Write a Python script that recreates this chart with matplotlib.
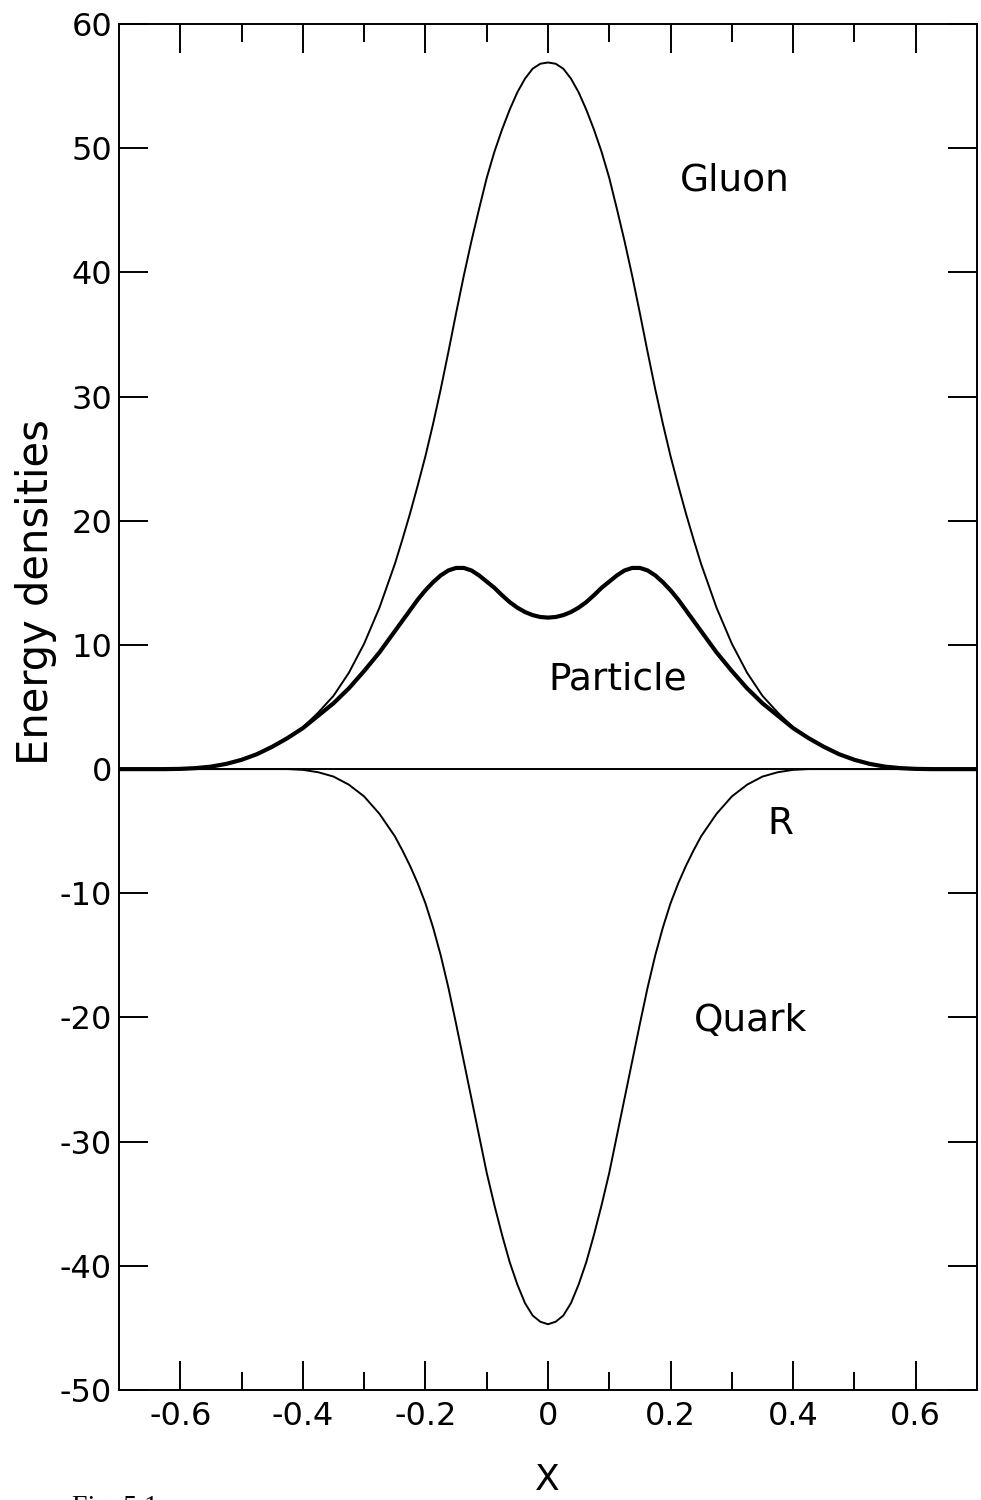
import numpy as np
import matplotlib
matplotlib.use("Agg")
import matplotlib.pyplot as plt

# values (curves are symmetric about x = 0)
x_half = [0.0, 0.0125, 0.025, 0.0375, 0.05, 0.0625, 0.075, 0.0875, 0.1, 0.1125,
          0.125, 0.1375, 0.15, 0.1625, 0.175, 0.1875, 0.2, 0.2125, 0.225, 0.2375,
          0.25, 0.275, 0.3, 0.325, 0.35, 0.375, 0.4, 0.425, 0.45, 0.475,
          0.5, 0.525, 0.55, 0.575, 0.6, 0.625, 0.65, 0.7]
gluon_half = [56.9, 56.8, 56.4, 55.6, 54.5, 53.1, 51.5, 49.7, 47.6, 45.1,
              42.5, 39.7, 36.7, 33.6, 30.6, 27.8, 25.2, 22.85, 20.6, 18.5,
              16.5, 13.0, 10.1, 7.75, 5.9, 4.55, 3.36, 2.5, 1.8, 1.2,
              0.75, 0.42, 0.2, 0.08, 0.02, 0.0, 0.0, 0.0]
particle_half = [12.2, 12.25, 12.4, 12.65, 13.0, 13.45, 14.0, 14.6, 15.1, 15.6,
                 16.0, 16.2, 16.2, 16.0, 15.6, 15.05, 14.4, 13.65, 12.8, 11.95,
                 11.1, 9.4, 7.9, 6.5, 5.3, 4.3, 3.3, 2.5, 1.8, 1.2,
                 0.75, 0.42, 0.2, 0.08, 0.02, 0.0, 0.0, 0.0]
quark_half = [-44.7, -44.5, -44.0, -43.0, -41.5, -39.7, -37.5, -35.1, -32.5, -29.5,
              -26.5, -23.5, -20.5, -17.6, -15.0, -12.75, -10.8, -9.2, -7.8, -6.55,
              -5.4, -3.6, -2.2, -1.25, -0.6, -0.25, -0.06, 0.0, 0.0, 0.0,
              0.0, 0.0, 0.0, 0.0, 0.0, 0.0, 0.0, 0.0]

xticks = [-0.6, -0.4, -0.2, 0, 0.2, 0.4, 0.6]
xtick_labels = ["-0.6", "-0.4", "-0.2", "0", "0.2", "0.4", "0.6"]
yticks = [-50, -40, -30, -20, -10, 0, 10, 20, 30, 40, 50, 60]
ytick_labels = ["-50", "-40", "-30", "-20", "-10", "0", "10", "20", "30", "40", "50", "60"]


def mirror(xs, ys):
    xs = np.asarray(xs)
    ys = np.asarray(ys)
    return np.concatenate([-xs[:0:-1], xs]), np.concatenate([ys[:0:-1], ys])


fig = plt.figure(figsize=(9.81, 15), dpi=100)
ax = fig.add_axes([0.1213, 0.0733, 0.8746, 0.9107])

ax.axhline(0, color="black", lw=1.4)
xg, yg = mirror(x_half, gluon_half)
xp, yp = mirror(x_half, particle_half)
xq, yq = mirror(x_half, quark_half)
ax.plot(xg, yg, color="black", lw=1.4, solid_joinstyle="round")
ax.plot(xq, yq, color="black", lw=1.4, solid_joinstyle="round")
ax.plot(xp, yp, color="black", lw=3.0, solid_joinstyle="round")

ax.set_xlim(-0.7, 0.7)
ax.set_ylim(-50, 60)
ax.set_xticks(xticks)
ax.set_xticklabels(xtick_labels)
ax.set_xticks(np.arange(-0.5, 0.6, 0.2), minor=True)
ax.set_yticks(yticks)
ax.set_yticklabels(ytick_labels)

ax.tick_params(axis="both", which="major", direction="in", length=21, width=1.4,
               top=True, right=True, labelsize=23)
ax.tick_params(axis="x", which="minor", direction="in", length=13, width=1.4, top=True)
ax.tick_params(axis="x", which="major", pad=8)
ax.tick_params(axis="y", which="major", pad=5)
for s in ax.spines.values():
    s.set_linewidth(1.4)

fig.text(36 / 981, 1 - 592 / 1500, "Energy densities", fontsize=30,
         rotation=90, ha="center", va="center")

ax.text(0.305, 47.4, "Gluon", fontsize=27, ha="center", va="center")
ax.text(0.0, 7.2, "Particle", fontsize=27, ha="left", va="center")
ax.text(0.33, -20.3, "Quark", fontsize=27, ha="center", va="center")
ax.text(0.38, -4.4, "R", fontsize=27, ha="center", va="center")

fig.text(547 / 981, 1 - 1480 / 1500, "X", fontsize=26, ha="center", va="center")
fig.text(72 / 981, 1 - 1495 / 1500, "Fig. 5.1", fontsize=20, ha="left", va="top",
         family="Liberation Serif")

fig.savefig("out.png", dpi=100)
